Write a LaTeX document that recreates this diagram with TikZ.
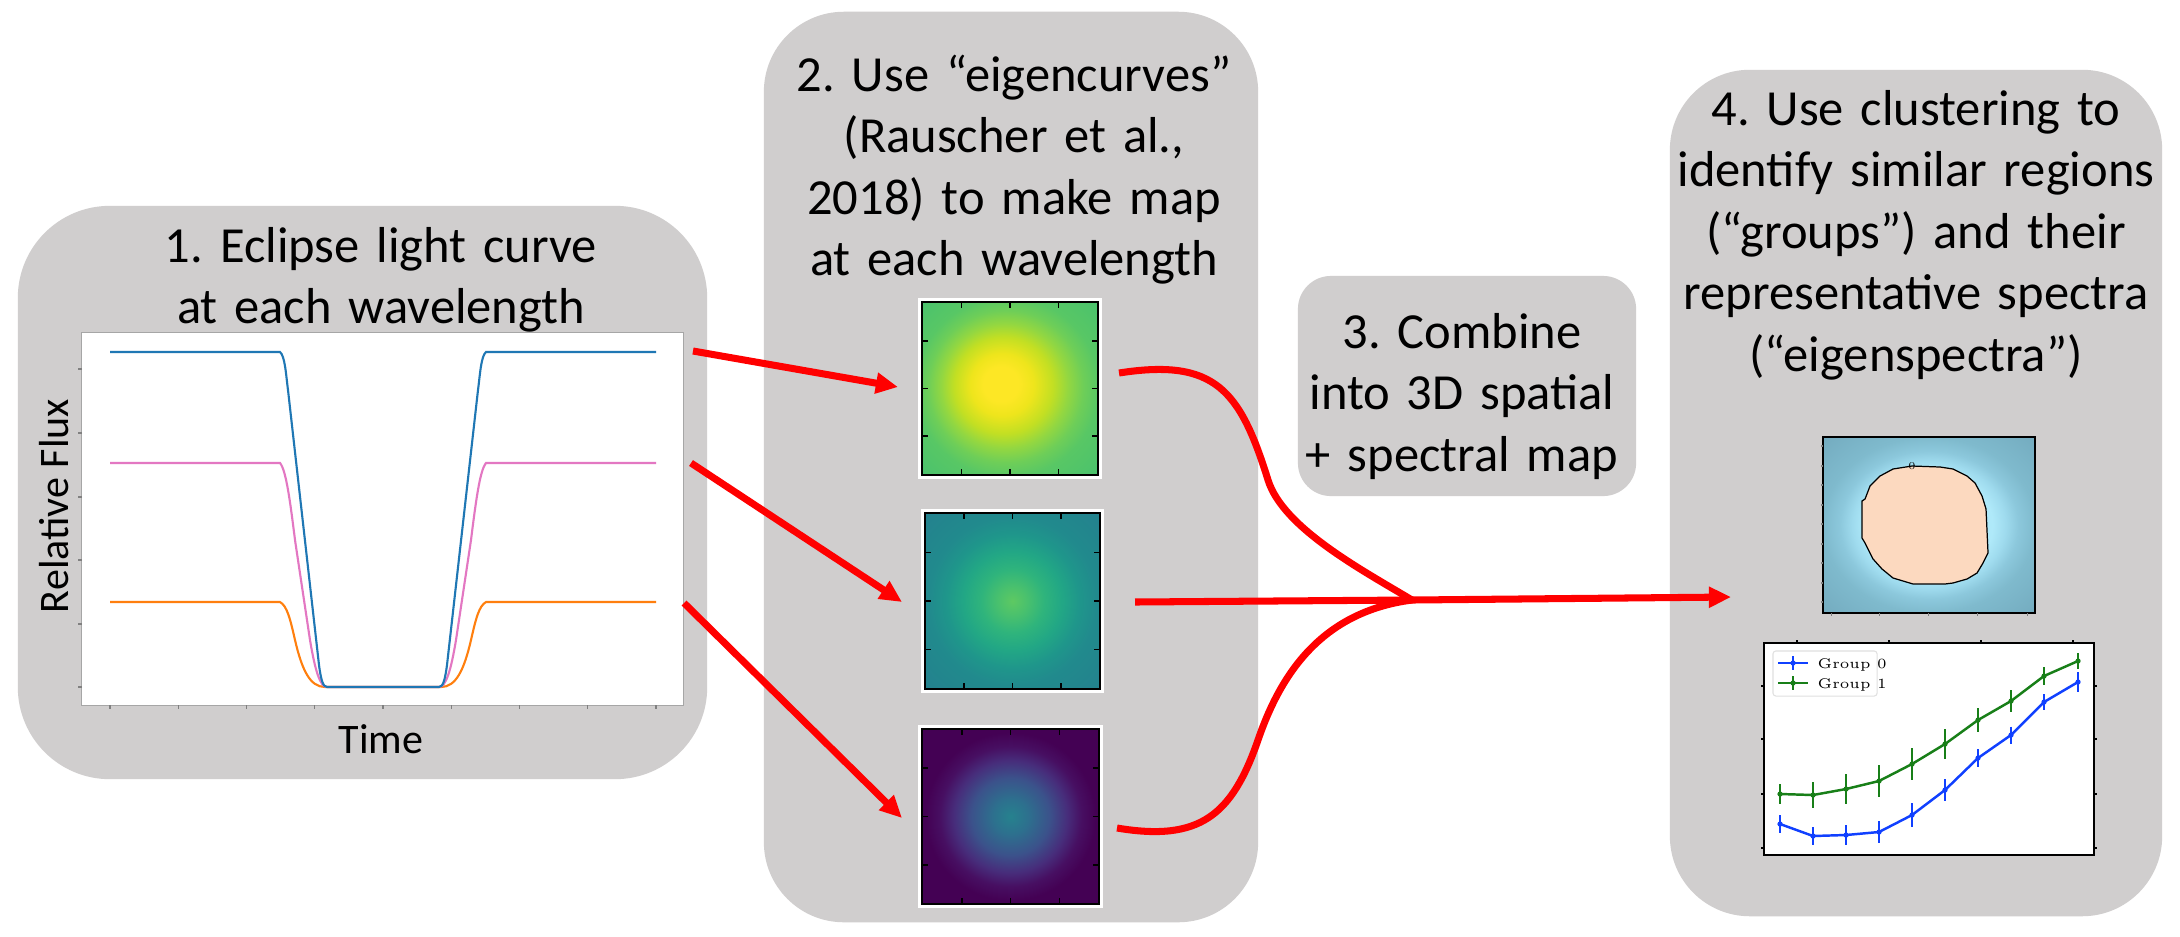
\documentclass[tikz,border=0pt]{standalone}
\usepackage{fontspec}
\newfontfamily\calibri{Carlito}
\usetikzlibrary{arrows.meta,calc}
\definecolor{boxgray}{HTML}{D0CECE}
\definecolor{lcblue}{HTML}{1F77B4}
\definecolor{lcorange}{HTML}{FF7F0E}
\definecolor{lcpink}{HTML}{E377C2}
\definecolor{spblue}{HTML}{1040FF}
\definecolor{spgreen}{HTML}{187F18}
\definecolor{peach}{HTML}{FCD9BF}
% viridis-like stops
\definecolor{va0}{HTML}{FDE725}\definecolor{va1}{HTML}{EEE51C}\definecolor{va2}{HTML}{C2DF23}
\definecolor{va3}{HTML}{93D741}\definecolor{va4}{HTML}{6ECE58}\definecolor{va5}{HTML}{58C765}
\definecolor{va6}{HTML}{48C16E}
\definecolor{vb0}{HTML}{5EC962}\definecolor{vb1}{HTML}{4AC16D}\definecolor{vb2}{HTML}{2FB47C}
\definecolor{vb3}{HTML}{22A785}\definecolor{vb4}{HTML}{1F968B}\definecolor{vb5}{HTML}{218A8D}
\definecolor{vb6}{HTML}{24808E}
\definecolor{vc0}{HTML}{26828E}\definecolor{vc1}{HTML}{2D708E}\definecolor{vc2}{HTML}{3B528B}
\definecolor{vc3}{HTML}{472D7B}\definecolor{vc4}{HTML}{470F62}\definecolor{vc5}{HTML}{440154}
\definecolor{cb0}{HTML}{B5EDFC}\definecolor{cb1}{HTML}{AFE9F9}\definecolor{cb2}{HTML}{9FDBEE}
\definecolor{cb3}{HTML}{8CC8DC}\definecolor{cb4}{HTML}{7FBACD}\definecolor{cb5}{HTML}{72A9BD}
\pgfdeclareradialshading{mapA}{\pgfpoint{-3bp}{1.5bp}}{color(0bp)=(va0); color(5bp)=(va0); color(9bp)=(va1); color(14bp)=(va2); color(18bp)=(va3); color(22bp)=(va4); color(26bp)=(va5); color(37bp)=(va6)}
\pgfdeclareradialshading{mapB}{\pgfpoint{0bp}{0bp}}{color(0bp)=(vb0); color(4bp)=(vb1); color(9bp)=(vb2); color(14bp)=(vb3); color(19bp)=(vb4); color(24bp)=(vb5); color(37bp)=(vb6)}
\pgfdeclareradialshading{mapC}{\pgfpoint{0bp}{0bp}}{color(0bp)=(vc0); color(5bp)=(vc1); color(11bp)=(vc2); color(16bp)=(vc3); color(20bp)=(vc4); color(24bp)=(vc5); color(37bp)=(vc5)}
\pgfdeclareradialshading{clmap}{\pgfpoint{0bp}{0bp}}{color(0bp)=(cb0); color(15bp)=(cb1); color(18bp)=(cb2); color(21bp)=(cb3); color(25bp)=(cb4); color(37bp)=(cb5)}
\begin{document}
\begin{tikzpicture}[x=0.01cm,y=-0.01cm,
  stagebox/.style={fill=boxgray, draw=none, inner sep=0pt},
  title/.style={font=\calibri\fontsize{14.37pt}{17.5pt}\selectfont\frenchspacing, align=center, text width=5.6cm, inner sep=0pt, anchor=base},
  axislabel/.style={font=\calibri\fontsize{11.95pt}{14pt}\selectfont, inner sep=0pt, anchor=base},
  plotframe/.style={fill=white, draw=gray!70, line width=0.3pt, inner sep=0pt},
  lctick/.style={draw=gray, line width=0.3pt},
  mapnode/.style={draw=black, line width=0.45pt, inner sep=0pt, preaction={draw=white, line width=2pt}},
  maptick/.style={draw=black, line width=0.45pt},
  redline/.style={draw=red, line width=2pt},
  redarrow/.style={redline, -{Triangle[length=6.3pt,width=5.7pt]}},
  spframe/.style={fill=white, draw=black, line width=0.5pt, inner sep=0pt},
  legbox/.style={fill=white, draw=black!12, line width=0.3pt, rounded corners=0.8pt, inner sep=0pt},
  legtext/.style={font=\fontsize{4pt}{5pt}\selectfont, inner sep=0pt, anchor=base west},
  bline/.style={draw=spblue, line width=0.7pt},
  gline/.style={draw=spgreen, line width=0.7pt},
  berr/.style={draw=spblue, line width=0.7pt},
  gerr/.style={draw=spgreen, line width=0.7pt},
]
\useasboundingbox (0,0) rectangle (2180,936);
\fill[white] (0,0) rectangle (2180,936);

% ---------- stage boxes ----------
\node[stagebox, minimum width=6.89cm, minimum height=5.73cm, rounded corners=0.92cm] (b1) at (362.5,492.5) {};
\node[stagebox, minimum width=4.94cm, minimum height=9.10cm, rounded corners=0.80cm] (b2) at (1011,467) {};
\node[stagebox, minimum width=3.38cm, minimum height=2.20cm, rounded corners=0.33cm] (b3) at (1467,386) {};
\node[stagebox, minimum width=4.92cm, minimum height=8.46cm, rounded corners=0.80cm] (b4) at (1916,493) {};

% ---------- titles ----------
\node[title] (t1) at (381,262) {1. Eclipse light curve\\at each wavelength};
\node[title] (t2) at (1014,91) {2. Use “eigencurves”\\(Rauscher et al.,\\2018) to make map\\at each wavelength};
\node[title] (t3) at (1462,348) {3. Combine\\into 3D spatial\\+ spectral map};
\node[title] (t4) at (1916,125) {4. Use clustering to\\identify similar regions\\(“groups”) and their\\representative spectra\\(“eigenspectra”)};

% ---------- light curve plot ----------
\node[plotframe, minimum width=6.01cm, minimum height=3.72cm] (lc) at (382.5,519) {};
\foreach \yy in {369,433,497,560,624,687} \draw[lctick] (82,\yy) -- ++(-4,0);
\foreach \k in {0,...,8} \draw[lctick] ({110+68.25*\k},705) -- ++(0,4);
\draw[lcorange, line width=0.6pt] (110,602) -- (280,602) .. controls (287,606) and (290,618) .. (295,640) .. controls (302,670) and (310,687) .. (325,687) -- (441,687) .. controls (456,687) and (464,670) .. (471,640) .. controls (476,618) and (479,606) .. (486,602) -- (656,602);
\draw[lcpink, line width=0.6pt] (110,463) -- (280,463) .. controls (286,470) and (290,500) .. (295,540) -- (310,640) .. controls (315,670) and (320,687) .. (327,687) -- (439,687) .. controls (446,687) and (451,670) .. (456,640) -- (471,540) .. controls (476,500) and (480,470) .. (486,463) -- (656,463);
\draw[lcblue, line width=0.6pt] (110,352) -- (280,352) .. controls (285,356) and (286,375) .. (288,390) -- (319,665) .. controls (321,680) and (323,687) .. (327,687) -- (439,687) .. controls (443,687) and (445,680) .. (447,665) -- (478,390) .. controls (480,375) and (481,356) .. (486,352) -- (656,352);
\node[axislabel, rotate=90] (ylab) at (68,506) {Relative Flux};
\node[axislabel] (xlab) at (381,753) {Time};

% ---------- maps ----------
\node[mapnode, shade, shading=mapA, minimum width=1.76cm, minimum height=1.73cm] (m1) at (1010,388.5) {};
\node[mapnode, shade, shading=mapB, minimum width=1.75cm, minimum height=1.76cm] (m2) at (1012.5,601) {};
\node[mapnode, shade, shading=mapC, minimum width=1.77cm, minimum height=1.75cm] (m3) at (1010.5,816.5) {};
\foreach \m in {m1,m2,m3}{
  \foreach \f in {0.227,0.5,0.773}{
    \draw[maptick] ($(\m.north west)!\f!(\m.north east)$) -- ++(0,7);
    \draw[maptick] ($(\m.south west)!\f!(\m.south east)$) -- ++(0,-7);
    \draw[maptick] ($(\m.north west)!\f!(\m.south west)$) -- ++(7,0);
    \draw[maptick] ($(\m.north east)!\f!(\m.south east)$) -- ++(-7,0);
  }
}

% ---------- arrows from light curves to maps ----------
\coordinate (s1) at (693,351);  \coordinate (e1) at (898,387);
\coordinate (s2) at (691,463);  \coordinate (e2) at (902,602);
\coordinate (s3) at (684,603);  \coordinate (e3) at (902,818);
\draw[redarrow] (s1) -- (e1);
\draw[redarrow] (s2) -- (e2);
\draw[redarrow] (s3) -- (e3);

% ---------- combining curves ----------
\coordinate (c1) at (1119,373);
\coordinate (c2) at (1135,602);
\coordinate (c3) at (1117,828);
\coordinate (mg) at (1412,600);
\coordinate (e4) at (1731,597);
\draw[redline] (c1) .. controls (1215,358) and (1240,390) .. (1268,480) .. controls (1283,528) and (1362,570) .. (mg);
\draw[redline] (c3) .. controls (1200,842) and (1232,815) .. (1258,740) .. controls (1280,676) and (1320,612) .. (mg);
\draw[redarrow] (c2) -- (mg) -- (e4);

% ---------- cluster map ----------
\node[draw=black, line width=0.45pt, shade, shading=clmap, inner sep=0pt, minimum width=2.12cm, minimum height=1.76cm] (cm) at (1929,525) {};
\foreach \yy in {446,466,485,505,524,544,563,583,602} \draw[lctick] (1823,\yy) -- ++(-2.5,0);
\foreach \xx in {1831,1879,1928,1977,2027} \draw[lctick] (\xx,613) -- ++(0,2.5);
\filldraw[fill=peach, draw=black, line width=0.35pt] (1912,466) -- (1940,467) -- (1953,469) -- (1967,476) -- (1975,483) -- (1982,496) -- (1986,509) -- (1988,553) -- (1983,563) -- (1977,573) -- (1967,579) -- (1953,583) -- (1945,584) -- (1913,584) -- (1893,578) -- (1882,569) -- (1873,559) -- (1868,549) -- (1865,543) -- (1862,538) -- (1862,501) -- (1865,499) -- (1870,486) -- (1880,476) -- (1893,469) -- cycle;
\node[font=\fontsize{3pt}{3pt}\selectfont, inner sep=0pt] (c0) at (1912,466) {0};

% ---------- spectra plot ----------
\node[spframe, minimum width=3.30cm, minimum height=2.12cm] (sp) at (1929,749) {};
\foreach \xx in {1797,1889,1981,2073} \draw[draw=black, line width=0.4pt] (\xx,643) -- ++(0,-3);
\foreach \yy in {686,739,794,848} {\draw[draw=black, line width=0.4pt] (1764,\yy) -- ++(-3,0); \draw[draw=black, line width=0.4pt] (2094,\yy) -- ++(3,0);}
\draw[gline] (1780,794) -- (1813,795) -- (1846,789) -- (1879,781) -- (1912,764) -- (1945,744) -- (1978,720) -- (2011,701) -- (2044,676) -- (2078,661);
\foreach \xx/\yy/\ee in {1780/794/10,1813/795/13,1846/789/15,1879/781/16,1912/764/16,1945/744/15,1978/720/12,2011/701/11,2044/676/9,2078/661/8}{
  \draw[gerr] (\xx,{\yy-\ee}) -- (\xx,{\yy+\ee});
  \fill[spgreen] (\xx,\yy) circle (0.75pt);
}
\draw[bline] (1780,824) -- (1813,836) -- (1846,835) -- (1879,832) -- (1912,815) -- (1945,790) -- (1978,758) -- (2011,735) -- (2044,702) -- (2078,682);
\foreach \xx/\yy/\ee in {1780/824/9,1813/836/9,1846/835/10,1879/832/11,1912/815/12,1945/790/11,1978/758/9,2011/735/8.5,2044/702/8,2078/682/10}{
  \draw[berr] (\xx,{\yy-\ee}) -- (\xx,{\yy+\ee});
  \fill[spblue] (\xx,\yy) circle (0.75pt);
}
% legend
\node[legbox, minimum width=1.04cm, minimum height=0.45cm] (lg) at (1825,673.5) {};
\draw[bline] (1778,663) -- (1808,663);
\draw[berr] (1793,656) -- (1793,670);
\fill[spblue] (1793,663) circle (0.75pt);
\node[legtext] (lg0) at (1817,668.5) {Group 0};
\draw[gline] (1778,683) -- (1808,683);
\draw[gerr] (1793,676) -- (1793,690);
\fill[spgreen] (1793,683) circle (0.75pt);
\node[legtext] (lg1) at (1817,688.5) {Group 1};
\end{tikzpicture}
\end{document}
